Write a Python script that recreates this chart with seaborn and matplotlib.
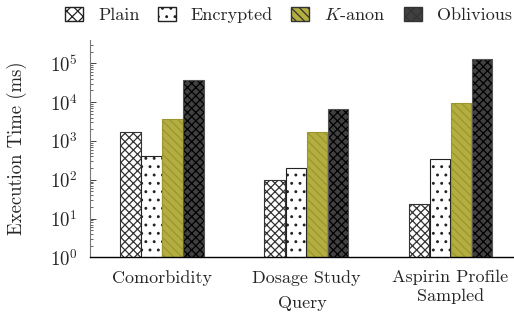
import matplotlib
matplotlib.use("Agg")
import matplotlib.pyplot as plt
import seaborn as sns
import pandas as pd
import numpy as np
from matplotlib.patches import Patch

queries = ["Comorbidity", "Dosage Study", "Aspirin Profile\nSampled"]
methods = ["Plain", "Encrypted", "$K$-anon", "Oblivious"]
plain = [1650, 97, 24]
encrypted = [400, 200, 340]
kanon = [3700, 1700, 9300]
oblivious = [38000, 6700, 130000]

rows = []
for m, vals in zip(methods, [plain, encrypted, kanon, oblivious]):
    for q, v in zip(queries, vals):
        rows.append({"Query": q, "Method": m, "Time": v})
df = pd.DataFrame(rows)

sns.set_theme(style="ticks")
plt.rcParams["font.family"] = ["cmr10", "DejaVu Serif"]
plt.rcParams["mathtext.fontset"] = "cm"
plt.rcParams["axes.formatter.use_mathtext"] = True
plt.rcParams["hatch.linewidth"] = 0.9

facecolors = ["white", "white", "#b3ae3f", "#404040"]
edgecolors = ["#333333", "#222222", "#9a9530", "#555555"]
hatches = ["xxxx", "..", "\\\\\\\\", "xxxx"]

fig = plt.figure(figsize=(5.14, 3.15), dpi=100)
ax = fig.add_axes([0.175, 0.183, 0.825, 0.69])

sns.barplot(data=df, x="Query", y="Time", hue="Method", order=queries,
            hue_order=methods, ax=ax, width=0.585, log_scale=True,
            legend=False, errorbar=None, gap=0.03)

for i, container in enumerate(ax.containers):
    for bar in container:
        bar.set_facecolor(facecolors[i])
        bar.set_edgecolor(edgecolors[i])
        bar.set_hatch(hatches[i])
        bar.set_linewidth(0.8)
        if i == 3:
            bar._hatch_color = matplotlib.colors.to_rgba("black")

ax.set_yscale("log")
ax.set_ylim(1, 10**5.6)
ax.set_xlim(-0.5, 2.44)
ax.set_yticks([10**k for k in range(6)])
ax.set_yticklabels([f"$10^{{{k}}}$" for k in range(6)], fontsize=13.5)
ax.tick_params(axis="y", which="major", direction="in", length=4, width=0.6, pad=9)
ax.tick_params(axis="y", which="minor", direction="in", length=2, width=0.5)
ax.tick_params(axis="x", length=0, labelsize=13, pad=9)
for t in ax.get_xticklabels():
    t.set_linespacing(1.25)
ax.set_xlabel("Query", fontsize=13, labelpad=-6)
ax.set_ylabel("Execution Time (ms)", fontsize=13.5, labelpad=16)
sns.despine(ax=ax)
ax.spines["left"].set_color("#777777")
ax.spines["left"].set_linewidth(0.8)
ax.spines["bottom"].set_color("black")
ax.spines["bottom"].set_linewidth(1.0)

handles = [Patch(facecolor=facecolors[i], edgecolor="#222222" if i < 2 else "#333333",
                 hatch=hatches[i].replace("xxxx", "xxx"), label=methods[i]) for i in range(4)]
leg = fig.legend(handles=handles, loc="upper center", bbox_to_anchor=(0.561, 1.03), ncol=4,
                 frameon=False, fontsize=13, handlelength=1.0, handleheight=0.85,
                 handletextpad=0.85, columnspacing=1.0)

fig.savefig("out.png", dpi=100)
